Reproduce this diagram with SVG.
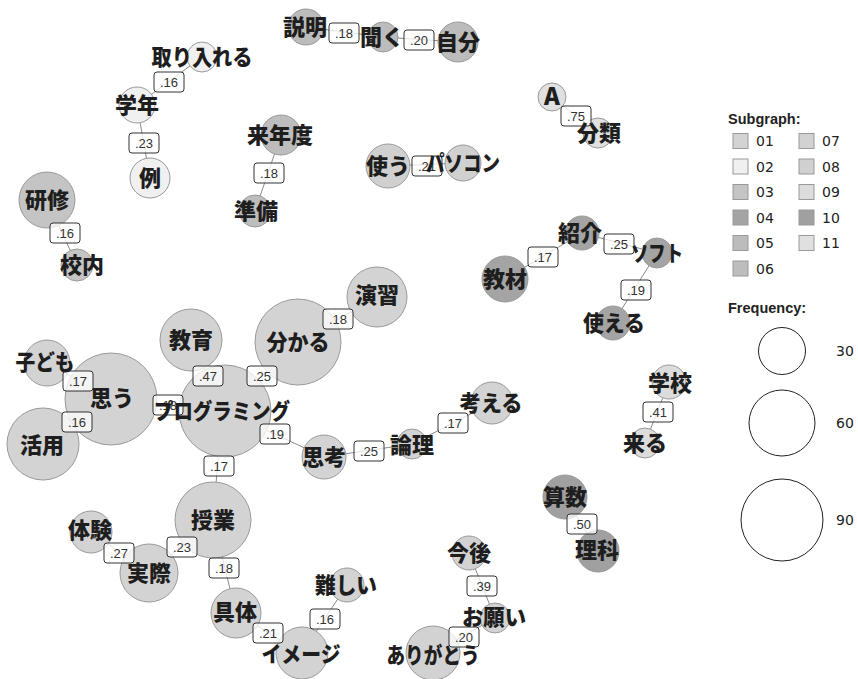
<svg xmlns="http://www.w3.org/2000/svg" width="858" height="679" viewBox="0 0 858 679">
<style>
.c{stroke:#9a9a9a;stroke-width:1}
.g01{fill:#d3d3d3}.g02{fill:#f0f0f0}.g03{fill:#c4c4c4}.g04{fill:#a4a4a4}.g05{fill:#bcbcbc}.g06{fill:#bdbdbd}.g07{fill:#d2d2d2}.g08{fill:#d0d0d0}.g09{fill:#dcdcdc}.g10{fill:#a0a0a0}.g11{fill:#e0e0e0}
.t{font-family:"Noto Sans CJK JP","Noto Sans",sans-serif;font-weight:900;font-size:22px;fill:#1e1e1e;text-anchor:middle}
.e{stroke:#8a8a8a;stroke-width:1;fill:none}
.lb rect{fill:#fff;fill-opacity:0.75;stroke:#333;stroke-width:1}
.lb text{font-family:"Liberation Sans",Arial,sans-serif;font-size:13px;fill:#333;text-anchor:middle}
.lg{font-family:"DejaVu Sans",Verdana,sans-serif;font-size:14px;fill:#222}
.lh{font-family:"Liberation Sans",Arial,sans-serif;font-weight:700;font-size:14.5px;fill:#222}
.sq{stroke:#999;stroke-width:1}
.fc{fill:#fff;stroke:#222;stroke-width:1}
</style>
<rect width="858" height="679" fill="#fff"/>
<g id="edges" class="e">
<line x1="306" y1="27" x2="383" y2="37"/>
<line x1="383" y1="37" x2="458" y2="42"/>
<line x1="202" y1="57" x2="137" y2="105"/>
<line x1="137" y1="105" x2="150" y2="178"/>
<line x1="281" y1="135" x2="255" y2="211"/>
<line x1="47" y1="200" x2="77" y2="265"/>
<line x1="388" y1="166" x2="463" y2="163"/>
<line x1="552" y1="97" x2="598" y2="133"/>
<line x1="505" y1="279" x2="582" y2="233"/>
<line x1="582" y1="233" x2="657" y2="253"/>
<line x1="657" y1="253" x2="613" y2="323"/>
<line x1="298" y1="342" x2="377" y2="297"/>
<line x1="191" y1="340" x2="225" y2="411"/>
<line x1="298" y1="342" x2="225" y2="411"/>
<line x1="47" y1="363" x2="111" y2="399"/>
<line x1="43" y1="444" x2="111" y2="399"/>
<line x1="111" y1="399" x2="225" y2="411"/>
<line x1="225" y1="411" x2="324" y2="457"/>
<line x1="324" y1="457" x2="412" y2="444"/>
<line x1="412" y1="444" x2="492" y2="403"/>
<line x1="222" y1="411" x2="213" y2="520"/>
<line x1="213" y1="520" x2="149" y2="573"/>
<line x1="91" y1="532" x2="149" y2="573"/>
<line x1="213" y1="520" x2="236" y2="613"/>
<line x1="236" y1="613" x2="302" y2="653"/>
<line x1="347" y1="585" x2="302" y2="653"/>
<line x1="669" y1="382" x2="645" y2="443"/>
<line x1="565" y1="497" x2="598" y2="551"/>
<line x1="469" y1="553" x2="495" y2="618"/>
<line x1="495" y1="618" x2="433" y2="653"/>
</g>
<g id="circles">
<circle class="c g05" cx="306" cy="27" r="18"/>
<circle class="c g05" cx="383" cy="37" r="15"/>
<circle class="c g05" cx="458" cy="42" r="20"/>
<circle class="c g02" cx="202" cy="57" r="15"/>
<circle class="c g02" cx="137" cy="105" r="18"/>
<circle class="c g02" cx="150" cy="178" r="20"/>
<circle class="c g06" cx="281" cy="135" r="20"/>
<circle class="c g06" cx="255" cy="211" r="16"/>
<circle class="c g03" cx="47" cy="200" r="28"/>
<circle class="c g03" cx="77" cy="265" r="16"/>
<circle class="c g08" cx="388" cy="166" r="22"/>
<circle class="c g08" cx="463" cy="163" r="18"/>
<circle class="c g11" cx="552" cy="97" r="14"/>
<circle class="c g11" cx="598" cy="133" r="15"/>
<circle class="c g04" cx="582" cy="233" r="17"/>
<circle class="c g04" cx="657" cy="253" r="15"/>
<circle class="c g04" cx="505" cy="279" r="23"/>
<circle class="c g04" cx="613" cy="323" r="17"/>
<circle class="c g01" cx="377" cy="297" r="30"/>
<circle class="c g01" cx="298" cy="342" r="43"/>
<circle class="c g01" cx="191" cy="340" r="31"/>
<circle class="c g01" cx="47" cy="363" r="23"/>
<circle class="c g01" cx="111" cy="399" r="46"/>
<circle class="c g01" cx="43" cy="444" r="36"/>
<circle class="c g01" cx="225" cy="411" r="46"/>
<circle class="c g01" cx="324" cy="457" r="22"/>
<circle class="c g01" cx="412" cy="444" r="15"/>
<circle class="c g01" cx="492" cy="403" r="21"/>
<circle class="c g01" cx="213" cy="520" r="38"/>
<circle class="c g01" cx="91" cy="532" r="21"/>
<circle class="c g01" cx="149" cy="573" r="29"/>
<circle class="c g01" cx="236" cy="613" r="25"/>
<circle class="c g01" cx="347" cy="585" r="17"/>
<circle class="c g01" cx="302" cy="653" r="26"/>
<circle class="c g07" cx="433" cy="653" r="27"/>
<circle class="c g07" cx="495" cy="618" r="15"/>
<circle class="c g07" cx="469" cy="553" r="17"/>
<circle class="c g10" cx="565" cy="497" r="22"/>
<circle class="c g10" cx="598" cy="551" r="21"/>
<circle class="c g09" cx="669" cy="382" r="17"/>
<circle class="c g09" cx="645" cy="443" r="15"/>
</g>
<g id="edge-labels" class="lb">
<rect x="329" y="23" width="30" height="20" rx="3"/><text x="344" y="38">.18</text>
<rect x="404" y="30" width="30" height="20" rx="3"/><text x="419" y="45">.20</text>
<rect x="154" y="72" width="30" height="20" rx="3"/><text x="169" y="87">.16</text>
<rect x="129" y="133" width="30" height="20" rx="3"/><text x="144" y="148">.23</text>
<rect x="254" y="163" width="30" height="20" rx="3"/><text x="269" y="178">.18</text>
<rect x="50" y="223" width="30" height="20" rx="3"/><text x="65" y="238">.16</text>
<rect x="412" y="156" width="30" height="20" rx="3"/><text x="427" y="171">.21</text>
<rect x="561" y="106" width="30" height="20" rx="3"/><text x="576" y="121">.75</text>
<rect x="528" y="247" width="30" height="20" rx="3"/><text x="543" y="262">.17</text>
<rect x="604" y="234" width="30" height="20" rx="3"/><text x="619" y="249">.25</text>
<rect x="621" y="280" width="30" height="20" rx="3"/><text x="636" y="295">.19</text>
<rect x="323" y="309" width="30" height="20" rx="3"/><text x="338" y="324">.18</text>
<rect x="193" y="366" width="30" height="20" rx="3"/><text x="208" y="381">.47</text>
<rect x="247" y="366" width="30" height="20" rx="3"/><text x="262" y="381">.25</text>
<rect x="63" y="371" width="30" height="20" rx="3"/><text x="78" y="386">.17</text>
<rect x="62" y="412" width="30" height="20" rx="3"/><text x="77" y="427">.16</text>
<rect x="153" y="395" width="30" height="20" rx="3"/><text x="168" y="410">.18</text>
<rect x="260" y="424" width="30" height="20" rx="3"/><text x="275" y="439">.19</text>
<rect x="354" y="441" width="30" height="20" rx="3"/><text x="369" y="456">.25</text>
<rect x="438" y="413" width="30" height="20" rx="3"/><text x="453" y="428">.17</text>
<rect x="204" y="456" width="30" height="20" rx="3"/><text x="219" y="471">.17</text>
<rect x="167" y="537" width="30" height="20" rx="3"/><text x="182" y="552">.23</text>
<rect x="104" y="543" width="30" height="20" rx="3"/><text x="119" y="558">.27</text>
<rect x="209" y="558" width="30" height="20" rx="3"/><text x="224" y="573">.18</text>
<rect x="253" y="623" width="30" height="20" rx="3"/><text x="268" y="638">.21</text>
<rect x="310" y="609" width="30" height="20" rx="3"/><text x="325" y="624">.16</text>
<rect x="643" y="402" width="30" height="20" rx="3"/><text x="658" y="417">.41</text>
<rect x="567" y="514" width="30" height="20" rx="3"/><text x="582" y="529">.50</text>
<rect x="467" y="576" width="30" height="20" rx="3"/><text x="482" y="591">.39</text>
<rect x="449" y="627" width="30" height="20" rx="3"/><text x="464" y="642">.20</text>
</g>
<g id="node-setsumei"><text class="t" x="305" y="35">説明</text></g>
<g id="node-kiku"><text class="t" x="382" y="45">聞く</text></g>
<g id="node-jibun"><text class="t" x="458" y="50">自分</text></g>
<g id="node-toriireru"><text class="t" x="202" y="65" textLength="101" lengthAdjust="spacingAndGlyphs">取り入れる</text></g>
<g id="node-gakunen"><text class="t" x="137" y="113">学年</text></g>
<g id="node-rei"><text class="t" x="150" y="186">例</text></g>
<g id="node-rainendo"><text class="t" x="280" y="143">来年度</text></g>
<g id="node-junbi"><text class="t" x="256" y="219">準備</text></g>
<g id="node-kenshu"><text class="t" x="47" y="208">研修</text></g>
<g id="node-kounai"><text class="t" x="82" y="273">校内</text></g>
<g id="node-tsukau"><text class="t" x="388" y="174">使う</text></g>
<g id="node-pasokon"><text class="t" x="463" y="171" textLength="74" lengthAdjust="spacingAndGlyphs">パソコン</text></g>
<g id="node-a"><text class="t" x="552" y="105" style="font-size:24px">A</text></g>
<g id="node-bunrui"><text class="t" x="599" y="141">分類</text></g>
<g id="node-shoukai"><text class="t" x="580" y="241">紹介</text></g>
<g id="node-soft"><text class="t" x="657" y="261" textLength="52" lengthAdjust="spacingAndGlyphs">ソフト</text></g>
<g id="node-kyouzai"><text class="t" x="505" y="287">教材</text></g>
<g id="node-tsukaeru"><text class="t" x="614" y="331" textLength="62" lengthAdjust="spacingAndGlyphs">使える</text></g>
<g id="node-enshu"><text class="t" x="377" y="303">演習</text></g>
<g id="node-wakaru"><text class="t" x="298" y="350" textLength="63" lengthAdjust="spacingAndGlyphs">分かる</text></g>
<g id="node-kyouiku"><text class="t" x="191" y="348">教育</text></g>
<g id="node-kodomo"><text class="t" x="45" y="370" textLength="59" lengthAdjust="spacingAndGlyphs">子ども</text></g>
<g id="node-omou"><text class="t" x="112" y="406">思う</text></g>
<g id="node-katsuyou"><text class="t" x="42" y="453">活用</text></g>
<g id="node-programming"><text class="t" x="222" y="419" textLength="136" lengthAdjust="spacingAndGlyphs">プログラミング</text></g>
<g id="node-shikou"><text class="t" x="324" y="465">思考</text></g>
<g id="node-ronri"><text class="t" x="412" y="453">論理</text></g>
<g id="node-kangaeru"><text class="t" x="491" y="411" textLength="63" lengthAdjust="spacingAndGlyphs">考える</text></g>
<g id="node-jugyou"><text class="t" x="213" y="528">授業</text></g>
<g id="node-taiken"><text class="t" x="90" y="538">体験</text></g>
<g id="node-jissai"><text class="t" x="149" y="581">実際</text></g>
<g id="node-gutai"><text class="t" x="235" y="620">具体</text></g>
<g id="node-muzukashii"><text class="t" x="346" y="593" textLength="62" lengthAdjust="spacingAndGlyphs">難しい</text></g>
<g id="node-image"><text class="t" x="301" y="662" textLength="79" lengthAdjust="spacingAndGlyphs">イメージ</text></g>
<g id="node-arigatou"><text class="t" x="433" y="663" textLength="93" lengthAdjust="spacingAndGlyphs">ありがとう</text></g>
<g id="node-onegai"><text class="t" x="494" y="625" textLength="64" lengthAdjust="spacingAndGlyphs">お願い</text></g>
<g id="node-kongo"><text class="t" x="469" y="561">今後</text></g>
<g id="node-sansu"><text class="t" x="565" y="505">算数</text></g>
<g id="node-rika"><text class="t" x="597" y="558">理科</text></g>
<g id="node-gakkou"><text class="t" x="670" y="391">学校</text></g>
<g id="node-kuru"><text class="t" x="645" y="451">来る</text></g>
<g id="legend">
<text class="lh" x="728" y="124">Subgraph:</text>
<rect class="sq g01" x="733" y="133.5" width="15" height="15"/><text class="lg" x="756" y="146">01</text>
<rect class="sq g02" x="733" y="159" width="15" height="15"/><text class="lg" x="756" y="171.5">02</text>
<rect class="sq g03" x="733" y="184.5" width="15" height="15"/><text class="lg" x="756" y="197">03</text>
<rect class="sq g04" x="733" y="210" width="15" height="15"/><text class="lg" x="756" y="222.5">04</text>
<rect class="sq g05" x="733" y="235.5" width="15" height="15"/><text class="lg" x="756" y="248">05</text>
<rect class="sq g06" x="733" y="261" width="15" height="15"/><text class="lg" x="756" y="273.5">06</text>
<rect class="sq g07" x="799" y="133.5" width="15" height="15"/><text class="lg" x="822" y="146">07</text>
<rect class="sq g08" x="799" y="159" width="15" height="15"/><text class="lg" x="822" y="171.5">08</text>
<rect class="sq g09" x="799" y="184.5" width="15" height="15"/><text class="lg" x="822" y="197">09</text>
<rect class="sq g10" x="799" y="210" width="15" height="15"/><text class="lg" x="822" y="222.5">10</text>
<rect class="sq g11" x="799" y="235.5" width="15" height="15"/><text class="lg" x="822" y="248">11</text>
<text class="lh" x="728" y="313">Frequency:</text>
<circle class="fc" cx="782" cy="351" r="23.5"/><text class="lg" x="836" y="356">30</text>
<circle class="fc" cx="782" cy="423" r="33"/><text class="lg" x="836" y="428">60</text>
<circle class="fc" cx="782" cy="520" r="41"/><text class="lg" x="836" y="525">90</text>
</g>
</svg>
